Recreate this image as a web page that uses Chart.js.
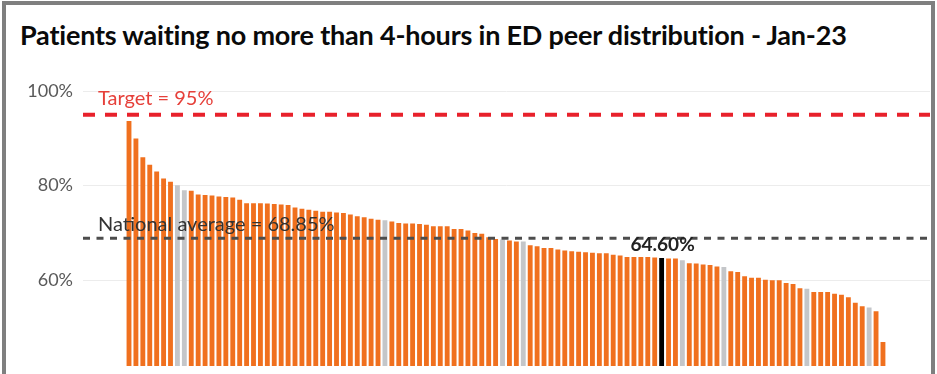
<!DOCTYPE html>
<html>
<head>
<meta charset="utf-8">
<script src="https://cdn.jsdelivr.net/npm/chart.js@4.4.0/dist/chart.umd.min.js"></script>
<style>
  html, body { margin:0; padding:0; background:#fff; overflow:hidden; }
  #wrap { position:relative; width:937px; height:374px; }
  #frame { position:absolute; left:2px; top:1px; width:925px; height:400px; border:4px solid #7f7f7f; border-bottom:none; }
  #title { position:absolute; left:20px; top:18px; font:bold 27px Lato, sans-serif; color:#0a0a0a; white-space:nowrap; letter-spacing:-0.2px; }
  canvas { position:absolute; left:0; top:0; }
</style>
</head>
<body>
<div id="wrap">
  <div id="frame"></div>
  <div id="title">Patients waiting no more than 4-hours in ED peer distribution - Jan-23</div>
  <canvas id="c" width="937" height="374"></canvas>
</div>
<script>
// ED trusts, sorted high to low (% seen within 4 hours)
const values = [
  93.6, 89.9, 85.9, 84.3, 82.9, 81.4, 80.7, 80.0, 78.9, 78.8,
  78.0, 77.9, 77.8, 77.6, 77.5, 77.4, 76.9, 76.2, 76.2, 76.2,
  76.1, 76.0, 75.9, 75.8, 75.3, 75.0, 74.8, 74.6, 74.4, 74.4,
  74.2, 74.1, 73.8, 73.4, 73.2, 72.9, 72.7, 72.6, 72.3, 72.0,
  71.9, 71.9, 71.8, 71.6, 71.3, 71.3, 71.3, 70.7, 70.7, 70.4,
  69.9, 69.7, 69.0, 68.6, 68.5, 68.3, 68.1, 68.1, 67.3, 67.1,
  66.7, 66.7, 66.4, 66.2, 66.0, 65.9, 65.8, 65.7, 65.6, 65.6,
  65.3, 65.1, 64.8, 64.8, 64.8, 64.8, 64.7, 64.6, 64.5, 64.5,
  64.1, 63.5, 63.4, 63.2, 63.1, 62.8, 62.7, 61.8, 61.6, 60.7,
  60.4, 60.4, 60.0, 59.9, 59.9, 59.3, 59.1, 58.2, 58.1, 57.4,
  57.4, 57.4, 57.0, 56.8, 56.3, 55.1, 54.4, 54.1, 53.3, 46.8
];
const peerBars = [7, 8, 37, 54, 57, 80, 86, 98, 107];
const selectedBar = 77;
const selectedLabel = '64.60%';
const target = 95;
const nationalAverage = 68.85;
const yTicks = [60, 80, 100];

const colours = values.map((v, i) =>
  i === selectedBar ? '#000000' : peerBars.includes(i) ? '#c4c6c9' : '#f0701e');

const refLines = {
  id: 'refLines',
  afterDatasetsDraw(chart) {
    const { ctx, chartArea: a, scales: { x, y } } = chart;
    ctx.save();
    const ty = y.getPixelForValue(target);
    ctx.strokeStyle = '#e8212b'; ctx.lineWidth = 4; ctx.setLineDash([12, 10]);
    ctx.beginPath(); ctx.moveTo(a.left, ty); ctx.lineTo(a.right, ty); ctx.stroke();
    const ny = y.getPixelForValue(nationalAverage);
    ctx.strokeStyle = '#4d4d4d'; ctx.lineWidth = 3; ctx.setLineDash([7, 6.5]);
    ctx.beginPath(); ctx.moveTo(a.left, ny); ctx.lineTo(a.right, ny); ctx.stroke();
    ctx.setLineDash([]);
    ctx.textBaseline = 'middle'; ctx.textAlign = 'left';
    ctx.font = '20px Lato';
    ctx.fillStyle = '#e6403a';
    ctx.fillText('Target = ' + target + '%', a.left + 15, ty - 16);
    ctx.fillStyle = '#333';
    ctx.fillText('National average = ' + nationalAverage.toFixed(2) + '%', a.left + 15, ny - 14);
    const bx = x.getPixelForValue(selectedBar), by = y.getPixelForValue(values[selectedBar]);
    ctx.font = 'bold 19px Lato'; ctx.textAlign = 'center'; ctx.fillStyle = '#222';
    ctx.fillText(selectedLabel, bx + 1, by - 13);
    ctx.restore();
  }
};

new Chart(document.getElementById('c').getContext('2d'), {
  type: 'bar',
  data: {
    datasets: [{
      data: values.map((v, i) => ({ x: i, y: v })),
      backgroundColor: colours,
      barThickness: 4.2
    }]
  },
  options: {
    responsive: false,
    animation: false,
    layout: { padding: { top: 91, right: 7, bottom: 8, left: 0 } },
    plugins: { legend: { display: false }, tooltip: { enabled: false } },
    scales: {
      x: { type: 'linear', min: -6.65, max: 115.8, offset: false, display: false },
      y: {
        min: 41.8, max: 100,
        afterBuildTicks: s => { s.ticks = yTicks.map(v => ({ value: v })); },
        afterFit: s => { s.width = 83; s.paddingTop = 0; s.paddingBottom = 0; },
        border: { display: false },
        grid: { color: '#ececec', drawTicks: false },
        ticks: { padding: 10, color: '#595959', font: { family: 'Lato', size: 18 }, callback: v => v + '%' }
      }
    }
  },
  plugins: [refLines]
});
</script>
</body>
</html>
